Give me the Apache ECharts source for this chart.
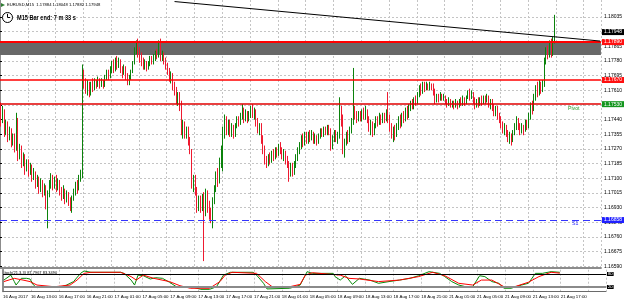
<!DOCTYPE html>
<html>
<head>
<meta charset="utf-8">
<title>EURUSD M15</title>
<script src="https://cdn.jsdelivr.net/npm/echarts@6/dist/echarts.min.js"></script>
<style>
  html, body { margin: 0; padding: 0; background: #fff; }
  #chart { width: 625px; height: 301px; }
</style>
</head>
<body>
<div id="chart"></div>
<script>
// EURUSD M15, 16 Aug 09:00 .. 21 Aug 17:00, one value per bar
const opens = [
  1.1750,1.1744,1.1748,1.1738,1.1741,1.1735,1.1737,1.1731,1.1734,1.1728,1.1733,1.1724,1.1727,1.1720,1.1722,1.1716,
  1.1719,1.1714,1.1717,1.1711,1.1713,1.1707,1.1710,1.1704,1.1708,1.1702,1.1705,1.1698,1.1701,1.1706,1.1710,1.1706,
  1.1709,1.1705,1.1708,1.1703,1.1700,1.1703,1.1698,1.1701,1.1697,1.1695,1.1699,1.1702,1.1706,1.1704,1.1710,1.1712,
  1.1770,1.1766,1.1762,1.1765,1.1760,1.1764,1.1762,1.1766,1.1764,1.1767,1.1764,1.1766,1.1764,1.1768,1.1771,1.1769,
  1.1773,1.1776,1.1773,1.1777,1.1775,1.1778,1.1773,1.1771,1.1774,1.1770,1.1766,1.1768,1.1772,1.1777,1.1784,1.1787,
  1.1783,1.1780,1.1778,1.1775,1.1777,1.1774,1.1776,1.1779,1.1777,1.1780,1.1782,1.1781,1.1784,1.1780,1.1782,1.1778,
  1.1775,1.1772,1.1768,1.1770,1.1764,1.1761,1.1756,1.1758,1.1753,1.1737,1.1741,1.1736,1.1738,1.1732,1.1726,1.1706,
  1.1710,1.1703,1.1694,1.1698,1.1693,1.1699,1.1691,1.1700,1.1694,1.1690,1.1687,1.1697,1.1704,1.1712,1.1709,1.1720,
  1.1727,1.1738,1.1745,1.1738,1.1742,1.1736,1.1740,1.1735,1.1740,1.1744,1.1742,1.1746,1.1749,1.1745,1.1748,1.1744,
  1.1747,1.1750,1.1747,1.1749,1.1743,1.1739,1.1741,1.1733,1.1727,1.1721,1.1718,1.1722,1.1720,1.1724,1.1722,1.1726,
  1.1724,1.1728,1.1726,1.1723,1.1725,1.1721,1.1719,1.1714,1.1717,1.1713,1.1718,1.1722,1.1726,1.1729,1.1733,1.1731,
  1.1735,1.1732,1.1735,1.1733,1.1736,1.1732,1.1734,1.1731,1.1734,1.1737,1.1735,1.1738,1.1736,1.1739,1.1737,1.1730,
  1.1733,1.1736,1.1733,1.1735,1.1750,1.1745,1.1728,1.1731,1.1735,1.1733,1.1738,1.1743,1.1750,1.1746,1.1744,1.1747,
  1.1745,1.1748,1.1746,1.1749,1.1744,1.1740,1.1742,1.1737,1.1740,1.1744,1.1742,1.1745,1.1743,1.1746,1.1744,1.1748,
  1.1745,1.1740,1.1736,1.1738,1.1735,1.1740,1.1744,1.1741,1.1746,1.1744,1.1748,1.1746,1.1750,1.1753,1.1751,1.1755,
  1.1754,1.1758,1.1762,1.1760,1.1764,1.1762,1.1764,1.1762,1.1764,1.1763,1.1760,1.1755,1.1758,1.1756,1.1758,1.1756,
  1.1757,1.1755,1.1753,1.1755,1.1752,1.1754,1.1752,1.1754,1.1752,1.1755,1.1753,1.1756,1.1754,1.1757,1.1759,1.1757,
  1.1759,1.1755,1.1752,1.1755,1.1753,1.1756,1.1754,1.1757,1.1755,1.1757,1.1753,1.1755,1.1751,1.1749,1.1751,1.1746,
  1.1744,1.1741,1.1738,1.1740,1.1736,1.1733,1.1735,1.1732,1.1736,1.1740,1.1744,1.1740,1.1737,1.1740,1.1738,1.1742,
  1.1740,1.1746,1.1752,1.1750,1.1757,1.1762,1.1759,1.1764,1.1761,1.1765,1.1778,1.1784,1.1782,1.1787,1.1783,1.17884
];
const closes = [
  1.1744,1.1748,1.1738,1.1741,1.1735,1.1737,1.1731,1.1734,1.1728,1.1733,1.1724,1.1727,1.1720,1.1722,1.1716,1.1719,
  1.1714,1.1717,1.1711,1.1713,1.1707,1.1710,1.1704,1.1708,1.1702,1.1705,1.1698,1.1701,1.1706,1.1710,1.1706,1.1709,
  1.1705,1.1708,1.1703,1.1700,1.1703,1.1698,1.1701,1.1697,1.1695,1.1699,1.1702,1.1706,1.1704,1.1710,1.1712,1.1770,
  1.1766,1.1762,1.1765,1.1760,1.1764,1.1762,1.1766,1.1764,1.1767,1.1764,1.1766,1.1764,1.1768,1.1771,1.1769,1.1773,
  1.1776,1.1773,1.1777,1.1775,1.1778,1.1773,1.1771,1.1774,1.1770,1.1766,1.1768,1.1772,1.1777,1.1784,1.1787,1.1783,
  1.1780,1.1778,1.1775,1.1777,1.1774,1.1776,1.1779,1.1777,1.1780,1.1782,1.1781,1.1784,1.1780,1.1782,1.1778,1.1775,
  1.1772,1.1768,1.1770,1.1764,1.1761,1.1756,1.1758,1.1753,1.1737,1.1741,1.1736,1.1738,1.1732,1.1726,1.1706,1.1710,
  1.1703,1.1694,1.1698,1.1693,1.1699,1.1691,1.1700,1.1694,1.1690,1.1687,1.1697,1.1704,1.1712,1.1709,1.1720,1.1727,
  1.1738,1.1745,1.1738,1.1742,1.1736,1.1740,1.1735,1.1740,1.1744,1.1742,1.1746,1.1749,1.1745,1.1748,1.1744,1.1747,
  1.1750,1.1747,1.1749,1.1743,1.1739,1.1741,1.1733,1.1727,1.1721,1.1718,1.1722,1.1720,1.1724,1.1722,1.1726,1.1724,
  1.1728,1.1726,1.1723,1.1725,1.1721,1.1719,1.1714,1.1717,1.1713,1.1718,1.1722,1.1726,1.1729,1.1733,1.1731,1.1735,
  1.1732,1.1735,1.1733,1.1736,1.1732,1.1734,1.1731,1.1734,1.1737,1.1735,1.1738,1.1736,1.1739,1.1737,1.1730,1.1733,
  1.1736,1.1733,1.1735,1.1750,1.1745,1.1728,1.1731,1.1735,1.1733,1.1738,1.1743,1.1750,1.1746,1.1744,1.1747,1.1745,
  1.1748,1.1746,1.1749,1.1744,1.1740,1.1742,1.1737,1.1740,1.1744,1.1742,1.1745,1.1743,1.1746,1.1744,1.1748,1.1745,
  1.1740,1.1736,1.1738,1.1735,1.1740,1.1744,1.1741,1.1746,1.1744,1.1748,1.1746,1.1750,1.1753,1.1751,1.1755,1.1754,
  1.1758,1.1762,1.1760,1.1764,1.1762,1.1764,1.1762,1.1764,1.1763,1.1760,1.1755,1.1758,1.1756,1.1758,1.1756,1.1757,
  1.1755,1.1753,1.1755,1.1752,1.1754,1.1752,1.1754,1.1752,1.1755,1.1753,1.1756,1.1754,1.1757,1.1759,1.1757,1.1759,
  1.1755,1.1752,1.1755,1.1753,1.1756,1.1754,1.1757,1.1755,1.1757,1.1753,1.1755,1.1751,1.1749,1.1751,1.1746,1.1744,
  1.1741,1.1738,1.1740,1.1736,1.1733,1.1735,1.1732,1.1736,1.1740,1.1744,1.1740,1.1737,1.1740,1.1738,1.1742,1.1740,
  1.1746,1.1752,1.1750,1.1757,1.1762,1.1759,1.1764,1.1761,1.1765,1.1778,1.1784,1.1782,1.1787,1.1783,1.1788,1.17948
];
const lows = [
  1.1740,1.1742,1.1734,1.1735,1.1731,1.1732,1.1728,1.1729,1.1725,1.1726,1.1720,1.1721,1.1716,1.1717,1.1712,1.1714,
  1.1711,1.1712,1.1708,1.1709,1.1704,1.1705,1.1701,1.1702,1.1699,1.1700,1.1692,1.1681,1.1699,1.1704,1.1703,1.1704,
  1.1702,1.1703,1.1700,1.1697,1.1698,1.1695,1.1696,1.1694,1.1691,1.1690,1.1697,1.1700,1.1701,1.1703,1.1708,1.1710,
  1.1762,1.1759,1.1758,1.1757,1.1758,1.1760,1.1761,1.1762,1.1763,1.1762,1.1763,1.1762,1.1763,1.1767,1.1767,1.1768,
  1.1771,1.1771,1.1772,1.1773,1.1774,1.1771,1.1768,1.1770,1.1767,1.1764,1.1764,1.1767,1.1771,1.1776,1.1782,1.1780,
  1.1777,1.1775,1.1773,1.1773,1.1772,1.1773,1.1775,1.1776,1.1776,1.1778,1.1779,1.1780,1.1778,1.1778,1.1776,1.1773,
  1.1770,1.1766,1.1765,1.1761,1.1758,1.1753,1.1752,1.1749,1.1735,1.1733,1.1733,1.1733,1.1729,1.1724,1.1704,1.1702,
  1.1700,1.1690,1.1691,1.1690,1.1691,1.1662,1.1688,1.1690,1.1686,1.1684,1.1681,1.1695,1.1702,1.1705,1.1707,1.1716,
  1.1714,1.1733,1.1735,1.1735,1.1734,1.1734,1.1733,1.1734,1.1739,1.1740,1.1741,1.1744,1.1742,1.1743,1.1742,1.1743,
  1.1745,1.1745,1.1744,1.1740,1.1736,1.1735,1.1730,1.1724,1.1718,1.1716,1.1717,1.1718,1.1719,1.1720,1.1721,1.1722,
  1.1723,1.1724,1.1721,1.1720,1.1718,1.1716,1.1708,1.1711,1.1711,1.1712,1.1716,1.1720,1.1724,1.1727,1.1728,1.1729,
  1.1730,1.1730,1.1731,1.1732,1.1730,1.1730,1.1729,1.1730,1.1733,1.1734,1.1734,1.1735,1.1735,1.1735,1.1726,1.1727,
  1.1731,1.1731,1.1730,1.1733,1.1740,1.1724,1.1722,1.1729,1.1730,1.1731,1.1736,1.1741,1.1744,1.1742,1.1743,1.1743,
  1.1743,1.1744,1.1744,1.1742,1.1737,1.1735,1.1734,1.1735,1.1739,1.1740,1.1741,1.1741,1.1742,1.1742,1.1743,1.1742,
  1.1737,1.1733,1.1731,1.1732,1.1734,1.1738,1.1739,1.1740,1.1742,1.1743,1.1744,1.1745,1.1749,1.1750,1.1750,1.1752,
  1.1753,1.1757,1.1758,1.1759,1.1760,1.1761,1.1761,1.1761,1.1761,1.1758,1.1753,1.1754,1.1754,1.1755,1.1755,1.1755,
  1.1753,1.1751,1.1752,1.1751,1.1751,1.1750,1.1751,1.1750,1.1751,1.1752,1.1752,1.1752,1.1753,1.1756,1.1755,1.1756,
  1.1753,1.1750,1.1751,1.1751,1.1752,1.1752,1.1753,1.1753,1.1754,1.1751,1.1750,1.1749,1.1746,1.1746,1.1744,1.1742,
  1.1739,1.1736,1.1735,1.1734,1.1731,1.1730,1.1729,1.1731,1.1735,1.1738,1.1738,1.1735,1.1736,1.1735,1.1737,1.1738,
  1.1739,1.1744,1.1747,1.1749,1.1755,1.1757,1.1758,1.1759,1.1760,1.1763,1.1776,1.1779,1.1780,1.1780,1.1781,1.17882
];
const highs = [
  1.1754,1.1752,1.1750,1.1744,1.1743,1.1740,1.1739,1.1736,1.1736,1.1748,1.1745,1.1730,1.1729,1.1725,1.1724,1.1721,
  1.1721,1.1719,1.1718,1.1716,1.1714,1.1712,1.1711,1.1710,1.1709,1.1707,1.1706,1.1703,1.1709,1.1713,1.1712,1.1711,
  1.1712,1.1710,1.1709,1.1705,1.1706,1.1704,1.1703,1.1702,1.1699,1.1700,1.1704,1.1708,1.1709,1.1712,1.1715,1.1776,
  1.1773,1.1768,1.1767,1.1766,1.1766,1.1768,1.1768,1.1767,1.1769,1.1768,1.1768,1.1767,1.1770,1.1773,1.1773,1.1775,
  1.1778,1.1779,1.1780,1.1781,1.1780,1.1779,1.1775,1.1776,1.1775,1.1771,1.1770,1.1773,1.1778,1.1786,1.1790,1.1791,
  1.1786,1.1783,1.1780,1.1779,1.1778,1.1778,1.1781,1.1781,1.1782,1.1784,1.1785,1.1790,1.1791,1.1784,1.1783,1.1780,
  1.1777,1.1774,1.1772,1.1771,1.1766,1.1763,1.1760,1.1760,1.1755,1.1744,1.1743,1.1740,1.1740,1.1734,1.1727,1.1712,
  1.1712,1.1705,1.1700,1.1700,1.1701,1.1702,1.1704,1.1703,1.1697,1.1693,1.1699,1.1706,1.1714,1.1716,1.1722,1.1729,
  1.1740,1.1747,1.1746,1.1744,1.1744,1.1742,1.1741,1.1742,1.1746,1.1746,1.1748,1.1753,1.1751,1.1750,1.1749,1.1749,
  1.1752,1.1753,1.1751,1.1750,1.1745,1.1742,1.1742,1.1735,1.1729,1.1723,1.1724,1.1725,1.1726,1.1727,1.1728,1.1728,
  1.1730,1.1731,1.1728,1.1727,1.1726,1.1723,1.1720,1.1719,1.1719,1.1720,1.1724,1.1728,1.1731,1.1735,1.1736,1.1737,
  1.1737,1.1737,1.1738,1.1738,1.1737,1.1736,1.1735,1.1736,1.1739,1.1739,1.1740,1.1740,1.1741,1.1741,1.1739,1.1735,
  1.1738,1.1738,1.1737,1.1757,1.1752,1.1747,1.1733,1.1737,1.1738,1.1740,1.1745,1.1774,1.1752,1.1749,1.1749,1.1749,
  1.1750,1.1751,1.1752,1.1750,1.1746,1.1744,1.1743,1.1742,1.1746,1.1746,1.1748,1.1747,1.1748,1.1748,1.1750,1.1760,
  1.1747,1.1742,1.1740,1.1741,1.1742,1.1746,1.1747,1.1748,1.1749,1.1751,1.1752,1.1753,1.1755,1.1756,1.1757,1.1758,
  1.1760,1.1764,1.1765,1.1766,1.1766,1.1766,1.1765,1.1766,1.1765,1.1765,1.1762,1.1759,1.1759,1.1760,1.1759,1.1759,
  1.1758,1.1756,1.1757,1.1756,1.1755,1.1755,1.1756,1.1755,1.1756,1.1757,1.1758,1.1757,1.1758,1.1761,1.1762,1.1761,
  1.1760,1.1757,1.1756,1.1757,1.1757,1.1758,1.1758,1.1758,1.1759,1.1758,1.1756,1.1756,1.1753,1.1752,1.1752,1.1748,
  1.1746,1.1743,1.1742,1.1741,1.1738,1.1737,1.1736,1.1738,1.1742,1.1746,1.1745,1.1742,1.1742,1.1741,1.1744,1.1744,
  1.1748,1.1754,1.1755,1.1759,1.1764,1.1766,1.1767,1.1766,1.1767,1.1780,1.1786,1.1787,1.1790,1.1791,1.1792,1.18048
];

// stochastic (21,3,3): bar index -> value, read at the turning points
const stochKBars = [0,4,6,7,10,13,15,17,19,25,33,36,40,44,46,50,67,69,73,75,77,80,84,87,91,95,99,109,113,118,122,126,130,143,145,149,151,164,167,170,173,174,177,189,190,193,196,200,204,210,215,221,227,233,238,244,250,253,257,261,265,269,273,276,280,284,287,291,297,301,305,309,314,319];
const stochKVals = [52,75,45,29,60,60,57,29,17,21,21,29,45,83,94,88,88,83,52,29,75,72,57,63,60,42,21,18,9,9,21,75,88,88,75,37,11,14,21,29,75,91,83,83,68,52,72,32,60,52,37,45,52,60,72,91,83,68,45,29,21,21,72,68,45,37,14,14,29,37,83,83,91,88];
const stochDBars = [0,6,11,15,19,29,38,42,46,50,67,73,76,80,86,95,101,107,118,124,127,131,145,150,154,164,170,173,177,193,198,204,215,227,238,246,253,261,269,274,280,287,293,301,307,314,319];
const stochDVals = [45,60,52,45,29,21,29,52,83,88,88,68,52,75,60,45,26,14,14,45,75,88,83,45,21,21,32,75,86,75,60,57,45,52,68,88,72,37,29,52,52,21,21,42,68,88,84];

const timeLabels = ['16 Aug 2017','16 Aug 13:00','16 Aug 17:00','16 Aug 21:00','17 Aug 01:00','17 Aug 05:00','17 Aug 09:00',
  '17 Aug 13:00','17 Aug 17:00','17 Aug 21:00','18 Aug 01:00','18 Aug 05:00','18 Aug 09:00','18 Aug 13:00','18 Aug 17:00',
  '18 Aug 21:00','21 Aug 01:00','21 Aug 05:00','21 Aug 09:00','21 Aug 13:00','21 Aug 17:00'];
const priceTicks = [1.18035,1.17950,1.17865,1.17780,1.17695,1.17610,1.17525,1.17440,1.17355,1.17270,
  1.17185,1.17100,1.17015,1.16930,1.16845,1.16760,1.16675,1.16590];

// drawn levels
const zoneTop = 1.17890;
const zoneBottom = 1.17815;
const redLevel = 1.17670;
const pivotLevel = 1.17530;
const s1Level = 1.16858;
const trendStart = [100, 1.18125];
const trendEnd = [345, 1.17896];
const stochLevels = [80, 20];

const SLOTS = 346; // bars plus the empty shift on the right
const FONT = 'Liberation Sans, Arial, sans-serif';
const GRIDC = '#c4c4c4';

const chart = echarts.init(document.getElementById('chart'));
const slots = Array.from({ length: SLOTS }, (_, i) => i);
const candles = opens.map((o, i) => [o, closes[i], lows[i], highs[i]]);
const kLine = stochKBars.map((b, i) => [b + 0.5, stochKVals[i]]);
const dLine = stochDBars.map((b, i) => [b + 0.5, stochDVals[i]]);
const last = opens.length - 1;

const boxLabel = (bg) => ({ backgroundColor: bg, color: '#fff' });

chart.setOption({
  animation: false,
  backgroundColor: '#fff',
  textStyle: { fontFamily: FONT },
  grid: [
    { left: 0, top: 0, width: 606, height: 268 },
    { left: 0, top: 269.7, width: 606, height: 21.6 }
  ],
  xAxis: [
    {
      type: 'category', gridIndex: 0, data: slots, boundaryGap: true,
      axisLine: { show: true, onZero: false, lineStyle: { color: '#8c8c8c', width: 2 } },
      axisTick: { show: false }, axisLabel: { show: false }, splitLine: { show: false }
    },
    {
      type: 'value', gridIndex: 0, min: 0, max: SLOTS, interval: 16, position: 'bottom',
      axisLine: { show: false }, axisTick: { show: false }, axisLabel: { show: false },
      splitLine: { show: true, lineStyle: { color: GRIDC, type: [2, 2], width: 1 } }
    },
    {
      type: 'value', gridIndex: 1, min: 0, max: SLOTS, interval: 16,
      axisLine: { show: true, onZero: false, lineStyle: { color: '#6a6a6a', width: 1 } },
      axisTick: { show: false },
      axisLabel: {
        show: true, showMinLabel: true, showMaxLabel: false, hideOverlap: false,
        fontSize: 4.4, color: '#000', align: 'left', margin: 3,
        formatter: (v) => timeLabels[Math.round(v / 16)] || ''
      },
      splitLine: { show: true, lineStyle: { color: GRIDC, type: [2, 2], width: 1 } }
    }
  ],
  yAxis: [
    {
      type: 'value', gridIndex: 0, position: 'right', min: 1.1658, max: 1.18134,
      axisLine: { show: true, lineStyle: { color: '#8c8c8c', width: 2 } },
      axisTick: { show: true, length: 2, inside: false, customValues: priceTicks, lineStyle: { color: '#000' } },
      axisLabel: { customValues: priceTicks, fontSize: 5, color: '#000', margin: 3, formatter: (v) => v.toFixed(5) },
      splitLine: { show: true, lineStyle: { color: GRIDC, type: [2, 2], width: 1 } }
    },
    {
      type: 'value', gridIndex: 1, position: 'right', min: 0, max: 100,
      axisLine: { show: true, lineStyle: { color: '#8c8c8c', width: 2 } },
      axisTick: { show: false }, axisLabel: { show: false }, splitLine: { show: false }
    }
  ],
  series: [
    {
      type: 'candlestick',
      xAxisIndex: 0, yAxisIndex: 0,
      data: candles,
      barWidth: 1,
      itemStyle: {
        color: '#0b820b', color0: '#ee1a30',
        borderColor: '#0b820b', borderColor0: '#ee1a30', borderWidth: 1
      },
      markArea: {
        silent: true,
        itemStyle: { color: '#686868' },
        data: [[{ yAxis: zoneTop }, { yAxis: zoneBottom }]]
      },
      markLine: {
        silent: true, symbol: 'none', animation: false, precision: 5,
        label: {
          position: 'end', distance: 1, fontSize: 5, color: '#fff', padding: [1, 2, 0, 2],
          fontFamily: FONT, formatter: (p) => Number(p.value).toFixed(5)
        },
        data: [
          { yAxis: closes[last], lineStyle: { color: 'rgba(0,0,0,0)', width: 0 }, label: boxLabel('#000') },
          { yAxis: zoneTop, lineStyle: { color: '#ff0000', width: 2, type: 'solid' }, label: boxLabel('#ff1010') },
          { yAxis: redLevel, lineStyle: { color: '#ff0000', width: 1.5, type: 'solid' }, label: boxLabel('#ff1010') },
          { yAxis: pivotLevel, lineStyle: { color: '#e00000', width: 1.5, type: 'solid' }, label: boxLabel('#14961e') },
          { yAxis: s1Level, lineStyle: { color: '#3434ff', width: 1, type: [7, 4] }, label: boxLabel('#1f1fff') },
          [
            { coord: trendStart, lineStyle: { color: '#000', width: 1, type: 'solid' }, label: { show: false } },
            { coord: trendEnd, lineStyle: { color: '#000', width: 1, type: 'solid' }, label: { show: false } }
          ]
        ]
      }
    },
    {
      type: 'line', name: 'main', xAxisIndex: 2, yAxisIndex: 1,
      data: kLine, symbol: 'none', lineStyle: { color: '#0a8a0a', width: 1 },
      markLine: {
        silent: true, symbol: 'none', animation: false, precision: 0,
        label: { position: 'end', distance: 1, fontSize: 4.2, color: '#fff', backgroundColor: '#000', padding: [0, 1, 0, 1], formatter: (p) => String(p.value) },
        data: [
          { yAxis: stochLevels[0], lineStyle: { color: '#000', width: 1, type: 'solid' } },
          { yAxis: stochLevels[1], lineStyle: { color: '#8a8a8a', width: 2, type: 'solid' } }
        ]
      }
    },
    {
      type: 'line', name: 'signal', xAxisIndex: 2, yAxisIndex: 1,
      data: dLine, symbol: 'none', lineStyle: { color: '#ff0000', width: 1 }
    }
  ]
});

const pivotY = chart.convertToPixel({ yAxisIndex: 0 }, pivotLevel);
const s1Y = chart.convertToPixel({ yAxisIndex: 0 }, s1Level);
const f5 = (v) => v.toFixed(5);

chart.setOption({
  graphic: [
    { type: 'polygon', shape: { points: [[1, 3], [5, 5], [1, 7]] }, style: { fill: '#2e7d32' } },
    {
      type: 'text', x: 7, y: 2.5,
      style: {
        text: 'EURUSD,M15  ' + f5(opens[last]) + ' ' + f5(highs[last]) + ' ' + f5(lows[last]) + ' ' + f5(closes[last]),
        fontSize: 4.2, fill: '#000', fontFamily: FONT
      }
    },
    { type: 'circle', shape: { cx: 7.5, cy: 17.5, r: 5 }, style: { fill: '#fff', stroke: '#000', lineWidth: 1 } },
    { type: 'polyline', shape: { points: [[7.5, 13.8], [7.5, 17.5], [10.2, 17.5]] }, style: { stroke: '#000', lineWidth: 1, fill: null } },
    {
      type: 'text', x: 17, y: 14, scaleX: 0.7,
      style: { text: 'M15 Bar end: 7 m 33 s', fontSize: 8, fontWeight: 'bold', fill: '#000', fontFamily: FONT }
    },
    { type: 'text', x: 568, y: pivotY + 1.5, style: { text: 'Pivot', fontSize: 5.2, fill: '#2a9a2a', fontFamily: FONT } },
    { type: 'text', x: 572, y: s1Y + 1, style: { text: 'S1', fontSize: 5.2, fill: '#2b2bff', fontFamily: FONT } },
    {
      type: 'text', x: 2, y: 271,
      style: { text: 'Stoch(21,3,3) 87.7967 83.3490', fontSize: 4, fill: '#000', fontFamily: FONT }
    }
  ]
});
</script>
</body>
</html>
